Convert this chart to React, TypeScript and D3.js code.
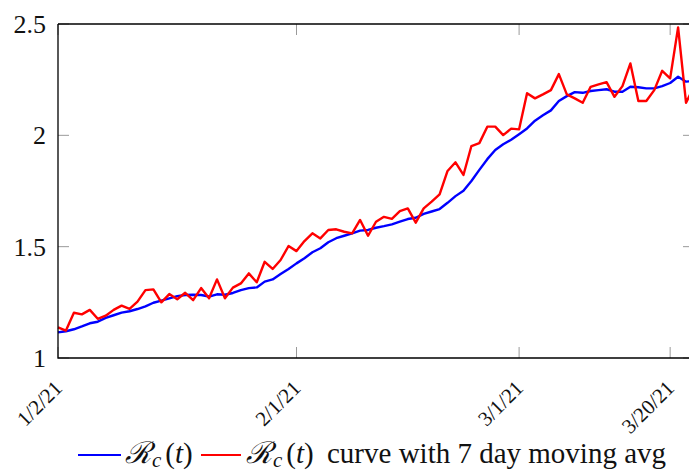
import React from "react";
import * as d3 from "d3";

const startDate = new Date(2021, 0, 2);
const rcValues = [
  1.115, 1.12, 1.129, 1.142, 1.156, 1.163, 1.18, 1.192, 1.204, 1.21,
  1.22, 1.232, 1.248, 1.258, 1.268, 1.278, 1.283, 1.284, 1.283, 1.276,
  1.286, 1.284, 1.292, 1.305, 1.314, 1.317, 1.343, 1.353, 1.377, 1.4,
  1.425, 1.448, 1.475, 1.493, 1.52, 1.538, 1.549, 1.56, 1.572, 1.575,
  1.585, 1.592, 1.6, 1.612, 1.624, 1.63, 1.647, 1.658, 1.669, 1.697,
  1.727, 1.751, 1.795, 1.845, 1.893, 1.934, 1.96, 1.98, 2.005, 2.031,
  2.066, 2.09, 2.112, 2.154, 2.176, 2.194, 2.191, 2.199, 2.203, 2.207,
  2.196, 2.196, 2.218, 2.216, 2.211, 2.211, 2.221, 2.235, 2.263, 2.241,
  2.245,
];
const rcAvgValues = [
  1.138, 1.123, 1.203, 1.196, 1.216, 1.176, 1.19, 1.216, 1.235, 1.221,
  1.253, 1.305, 1.308, 1.25, 1.287, 1.264, 1.293, 1.26, 1.314, 1.268,
  1.353, 1.268, 1.316, 1.335, 1.38, 1.34, 1.432, 1.4, 1.44, 1.503,
  1.48, 1.525, 1.56, 1.537, 1.575, 1.578, 1.567, 1.56, 1.62, 1.549,
  1.612, 1.634, 1.625, 1.66, 1.672, 1.608, 1.672, 1.702, 1.735, 1.84,
  1.879, 1.822, 1.952, 1.965, 2.039, 2.039, 2.001, 2.03, 2.027, 2.189,
  2.166, 2.184, 2.203, 2.275, 2.184, 2.166, 2.146, 2.218, 2.229, 2.239,
  2.173, 2.221, 2.323, 2.154, 2.154, 2.203, 2.29, 2.256, 2.485, 2.146,
  2.22,
];
const xTickDates = [new Date(2021, 0, 2), new Date(2021, 1, 1), new Date(2021, 2, 1), new Date(2021, 2, 20)];
const xTickLabels = ["1/2/21", "2/1/21", "3/1/21", "3/20/21"];
const yTicks = [1, 1.5, 2, 2.5];
const yTickLabels = ["1", "1.5", "2", "2.5"];

const W = 689, H = 472;
const L = 58, R = 694, T = 24, B = 358;

export default function App() {
  const x = d3.scaleTime().domain([startDate, d3.timeDay.offset(startDate, 80)]).range([L, R]);
  const y = d3.scaleLinear().domain([1, 2.5]).range([B, T]);
  const dates = rcValues.map((_, i) => d3.timeDay.offset(startDate, i));
  const line = d3.line<number>().x((_, i) => x(dates[i])).y((v) => y(v));
  const font = "'DejaVu Serif', 'Liberation Serif', serif";
  const tfont = "'Liberation Serif', 'Times New Roman', Times, serif";
  const tickLen = 11;
  const tickColor = "#9a9a9a";
  const legendY = 463;
  return (
    <svg width={W} height={H} style={{ position: "absolute", left: 0, top: 0 }}>
      <rect width={W} height={H} fill="white" />
      {yTicks.map((t, i) => (
        <g key={"y" + i}>
          <line x1={L} x2={L + tickLen} y1={y(t)} y2={y(t)} stroke={tickColor} strokeWidth={1} />
          <line x1={R - tickLen} x2={R} y1={y(t)} y2={y(t)} stroke={tickColor} strokeWidth={1} />
          <text x={46} y={y(t)} dy="0.34em" textAnchor="end" fontSize={26} fill="#111" fontFamily={tfont}>
            {yTickLabels[i]}
          </text>
        </g>
      ))}
      {xTickDates.map((d, i) => (
        <g key={"x" + i}>
          <line x1={x(d)} x2={x(d)} y1={B} y2={B - tickLen} stroke={tickColor} strokeWidth={1} />
          <line x1={x(d)} x2={x(d)} y1={T} y2={T + tickLen} stroke={tickColor} strokeWidth={1} />
          <text
            transform={`translate(${x(d) - 5},${B + 21}) rotate(-45)`}
            textAnchor="end"
            dy="0.7em"
            fontSize={21}
            fill="#111"
            fontFamily={tfont}
          >
            {xTickLabels[i]}
          </text>
        </g>
      ))}
      <path d={line(rcValues) || ""} fill="none" stroke="#0000ff" strokeWidth={2.4} strokeLinejoin="round" />
      <path d={line(rcAvgValues) || ""} fill="none" stroke="#ff0000" strokeWidth={2.4} strokeLinejoin="round" />
      <path d={`M${L},${T}V${B}H${R}`} fill="none" stroke="#000" strokeWidth={1.3} />
      <line x1={L} x2={R} y1={T} y2={T} stroke="#000" strokeWidth={1.3} />
      <line x1={R} x2={R} y1={T} y2={B} stroke="#000" strokeWidth={1.3} />
      <g fontSize={29} fill="#111" fontFamily={tfont}>
        <line x1={78} x2={121} y1={legendY - 8} y2={legendY - 8} stroke="#0000ff" strokeWidth={2} />
        <text x={125} y={legendY}>
          <tspan fontFamily={font} fontStyle="italic" fontSize={30}>ℛ</tspan>
          <tspan fontStyle="italic" fontSize={21} dy={4} dx={1}>c</tspan>
          <tspan dy={-4} dx={4}>(</tspan>
          <tspan fontStyle="italic">t</tspan>
          <tspan>)</tspan>
        </text>
        <line x1={201} x2={241} y1={legendY - 8} y2={legendY - 8} stroke="#ff0000" strokeWidth={2} />
        <text x={246} y={legendY}>
          <tspan fontFamily={font} fontStyle="italic" fontSize={30}>ℛ</tspan>
          <tspan fontStyle="italic" fontSize={21} dy={4} dx={1}>c</tspan>
          <tspan dy={-4} dx={4}>(</tspan>
          <tspan fontStyle="italic">t</tspan>
          <tspan>)</tspan>
          <tspan dx={6}>{" curve with 7 day moving avg"}</tspan>
        </text>
      </g>
    </svg>
  );
}
